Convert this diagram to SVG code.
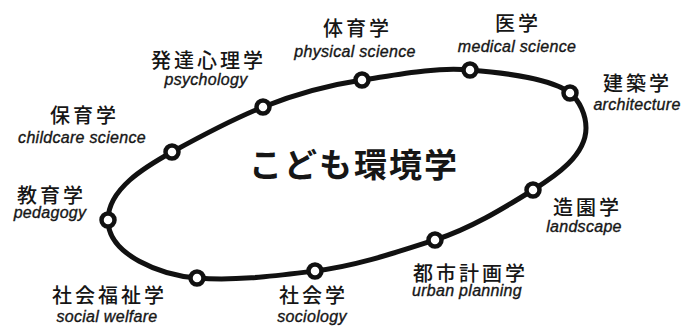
<svg xmlns="http://www.w3.org/2000/svg" width="681" height="326" viewBox="0 0 681 326">
<style>
.jp{font-family:"Noto Sans CJK JP","Noto Sans",sans-serif;font-size:20px;font-weight:500;letter-spacing:3px;fill:#161616;text-anchor:middle}
.en{font-family:"Liberation Sans",Arial,sans-serif;font-style:italic;font-size:16px;letter-spacing:0.3px;fill:#161616;stroke:#161616;stroke-width:0.35;text-anchor:middle}
.title{font-family:"Noto Sans CJK JP","Noto Sans",sans-serif;font-size:33px;font-weight:bold;letter-spacing:2px;fill:#161616;text-anchor:middle}
.node{fill:#fff;stroke:#111;stroke-width:4.5}
.loop{fill:none;stroke:#111;stroke-width:5}
</style>
<rect width="681" height="326" fill="#fff"/>
<g id="connectors">
<path class="loop" d="M108,220 C108,189 145,167 172,152 C201.6,135.7 231.6,119.5 263,107 C294.7,94.3 328.2,85.1 362,80 C397.8,74.6 433.9,67.1 470,70 C504,72.7 552.8,79.3 570,93 C579.9,100.9 586,115.3 586,128 C586,155.2 556.1,175.7 533,190 C501.8,209.3 469.9,228.8 435,240 C395.7,252.6 356,266.1 315,271 C275.9,275.7 236.3,281.2 197,278 C161.7,275.2 108,255.4 108,220 Z"/>
</g>
<g id="center"><text class="title" x="354" y="177">こども環境学</text></g>
<g id="n-kyoiku"><circle class="node" cx="108" cy="220" r="6.5"/><text class="jp" x="51.5" y="202.5">教育学</text><text class="en" x="50" y="218">pedagogy</text></g>
<g id="n-hoiku"><circle class="node" cx="172" cy="152" r="6.5"/><text class="jp" x="84.5" y="122.5">保育学</text><text class="en" x="82" y="143">childcare science</text></g>
<g id="n-hattatsu"><circle class="node" cx="263" cy="107" r="6.5"/><text class="jp" x="208.5" y="67.5">発達心理学</text><text class="en" x="206" y="85">psychology</text></g>
<g id="n-taiiku"><circle class="node" cx="362" cy="80" r="6.5"/><text class="jp" x="357.5" y="36">体育学</text><text class="en" x="355" y="56.5">physical science</text></g>
<g id="n-igaku"><circle class="node" cx="470" cy="70" r="6.5"/><text class="jp" x="518" y="31">医学</text><text class="en" x="517" y="52">medical science</text></g>
<g id="n-kenchiku"><circle class="node" cx="570" cy="93" r="6.5"/><text class="jp" x="637.5" y="91">建築学</text><text class="en" x="637" y="110">architecture</text></g>
<g id="n-zoen"><circle class="node" cx="533" cy="190" r="6.5"/><text class="jp" x="587.5" y="215">造園学</text><text class="en" x="584" y="232">landscape</text></g>
<g id="n-toshi"><circle class="node" cx="435" cy="240" r="6.5"/><text class="jp" x="470.5" y="280.5">都市計画学</text><text class="en" x="467" y="296">urban planning</text></g>
<g id="n-shakai"><circle class="node" cx="315" cy="271" r="6.5"/><text class="jp" x="313.5" y="303">社会学</text><text class="en" x="312" y="322">sociology</text></g>
<g id="n-fukushi"><circle class="node" cx="197" cy="278" r="6.5"/><text class="jp" x="109.5" y="303">社会福祉学</text><text class="en" x="107" y="322">social welfare</text></g>
</svg>
